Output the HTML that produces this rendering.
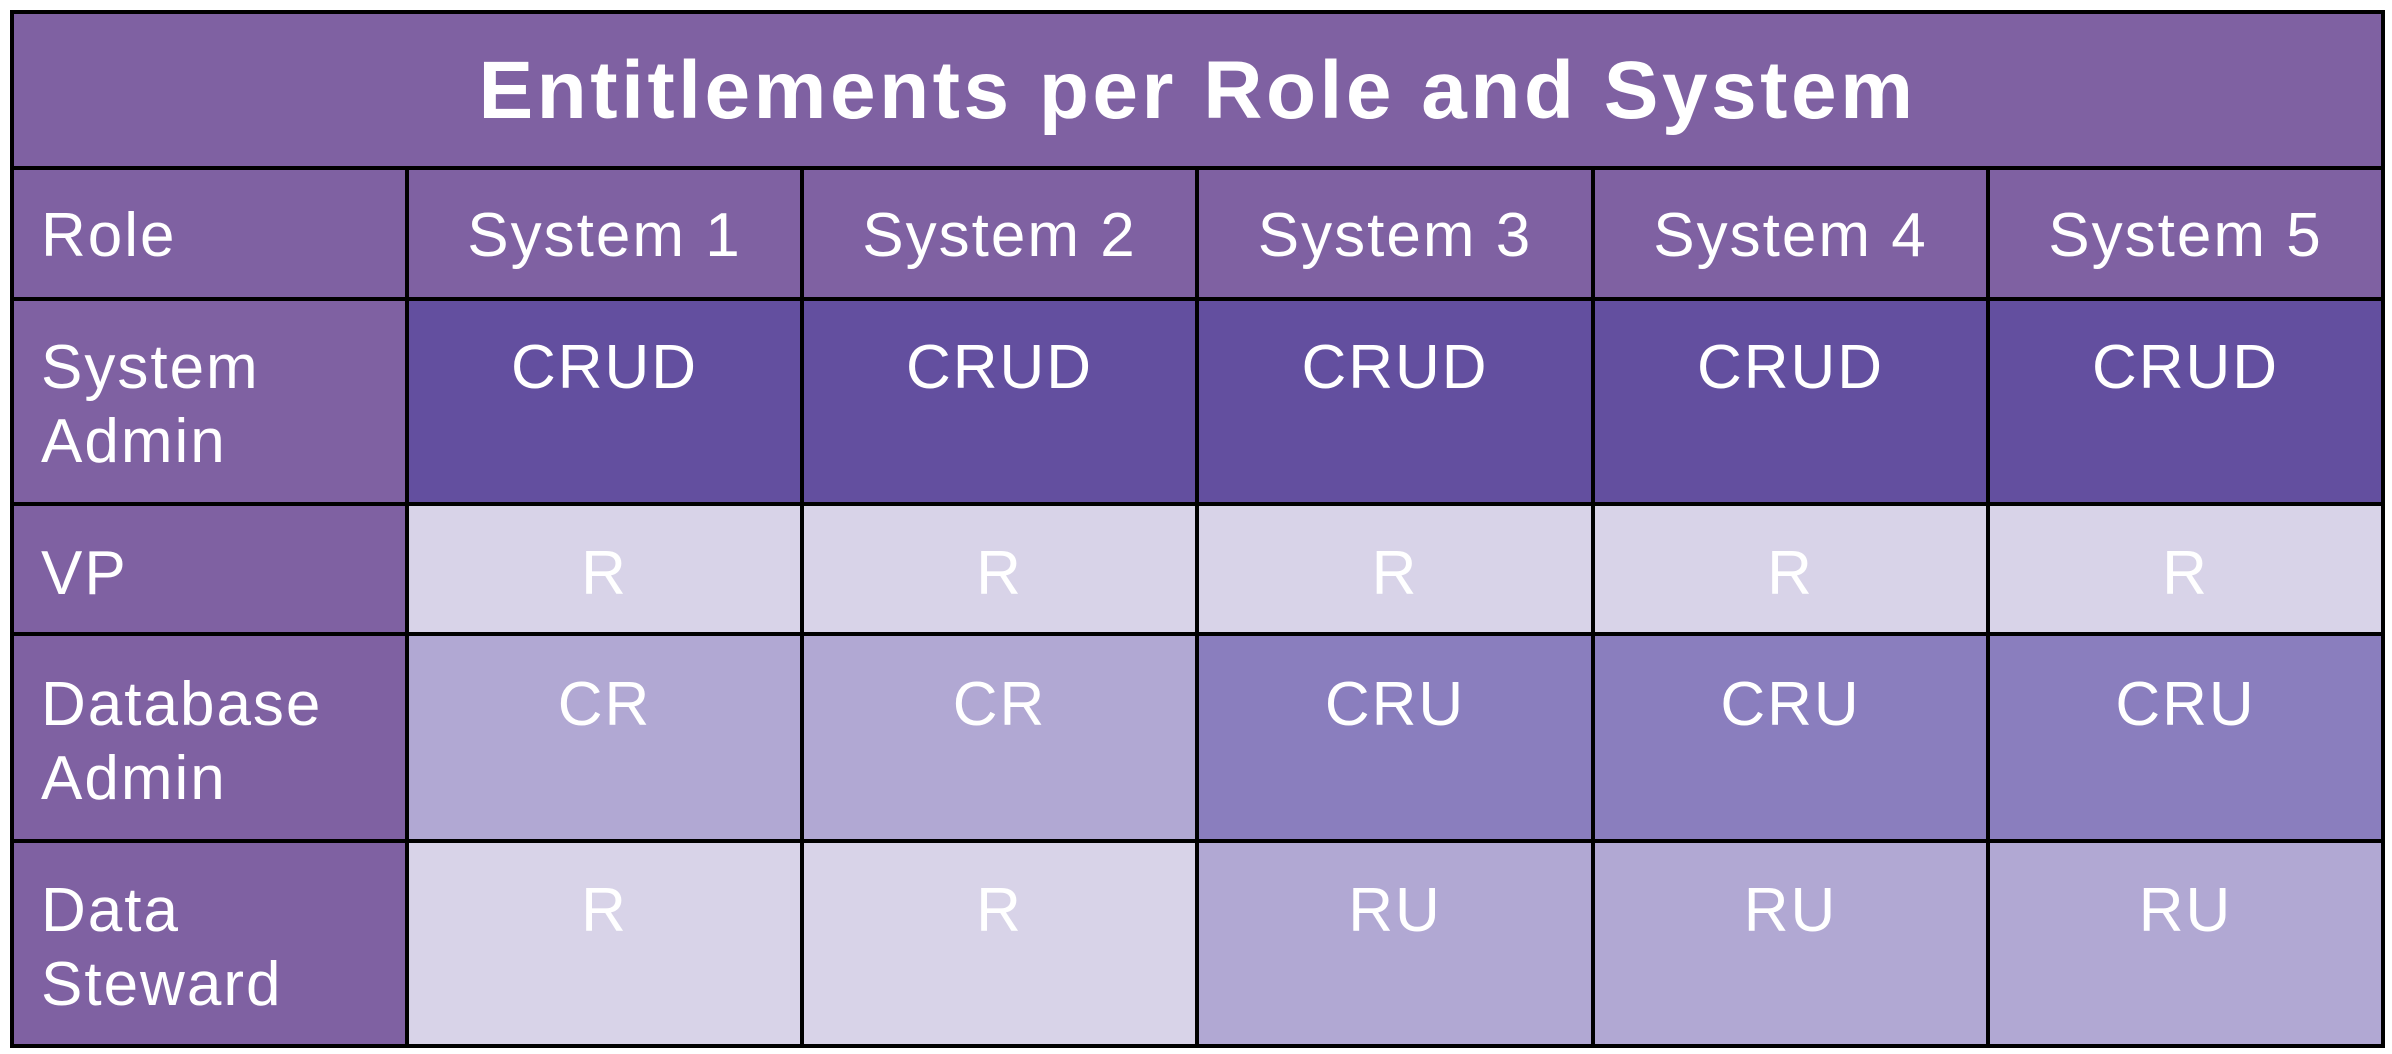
<!DOCTYPE html>
<html>
<head>
<meta charset="utf-8">
<style>
  html,body{margin:0;padding:0;background:#ffffff;}
  body{width:2392px;height:1054px;position:relative;overflow:hidden;font-family:"Liberation Sans",Arial,sans-serif;}
  .frame{position:absolute;left:10px;top:10px;width:2375px;height:1038px;background:#000;}
  .c{position:absolute;}
  .hdr{background:#7f61a2;}
  .sa{background:#634f9f;}
  .lt{background:#d8d3e8;}
  .md{background:#b1a8d3;}
  .dk{background:#8a7ebe;}
  .t{position:absolute;color:#fff;font-size:62px;line-height:74px;letter-spacing:2px;white-space:nowrap;}
  .ctr{text-align:center;}
  .title{position:absolute;left:14px;width:2367px;top:41px;color:#fff;font-weight:bold;font-size:82px;line-height:100px;letter-spacing:3.5px;text-align:center;white-space:nowrap;}
</style>
</head>
<body>
<div class="frame"></div>

<!-- title -->
<div class="c hdr" style="left:14px;top:14px;width:2367px;height:152px;"></div>
<div class="title">Entitlements per Role and System</div>

<!-- header row 170-297 -->
<div class="c hdr" style="left:14px;top:170px;width:391px;height:127px;"></div>
<div class="c hdr" style="left:409px;top:170px;width:391px;height:127px;"></div>
<div class="c hdr" style="left:804px;top:170px;width:391px;height:127px;"></div>
<div class="c hdr" style="left:1199px;top:170px;width:392px;height:127px;"></div>
<div class="c hdr" style="left:1595px;top:170px;width:391px;height:127px;"></div>
<div class="c hdr" style="left:1990px;top:170px;width:391px;height:127px;"></div>

<!-- row 1: 301-502 -->
<div class="c hdr" style="left:14px;top:301px;width:391px;height:201px;"></div>
<div class="c sa" style="left:409px;top:301px;width:391px;height:201px;"></div>
<div class="c sa" style="left:804px;top:301px;width:391px;height:201px;"></div>
<div class="c sa" style="left:1199px;top:301px;width:392px;height:201px;"></div>
<div class="c sa" style="left:1595px;top:301px;width:391px;height:201px;"></div>
<div class="c sa" style="left:1990px;top:301px;width:391px;height:201px;"></div>

<!-- row 2: 506-632 -->
<div class="c hdr" style="left:14px;top:506px;width:391px;height:126px;"></div>
<div class="c lt" style="left:409px;top:506px;width:391px;height:126px;"></div>
<div class="c lt" style="left:804px;top:506px;width:391px;height:126px;"></div>
<div class="c lt" style="left:1199px;top:506px;width:392px;height:126px;"></div>
<div class="c lt" style="left:1595px;top:506px;width:391px;height:126px;"></div>
<div class="c lt" style="left:1990px;top:506px;width:391px;height:126px;"></div>

<!-- row 3: 636-839 -->
<div class="c hdr" style="left:14px;top:636px;width:391px;height:203px;"></div>
<div class="c md" style="left:409px;top:636px;width:391px;height:203px;"></div>
<div class="c md" style="left:804px;top:636px;width:391px;height:203px;"></div>
<div class="c dk" style="left:1199px;top:636px;width:392px;height:203px;"></div>
<div class="c dk" style="left:1595px;top:636px;width:391px;height:203px;"></div>
<div class="c dk" style="left:1990px;top:636px;width:391px;height:203px;"></div>

<!-- row 4: 843-1044 -->
<div class="c hdr" style="left:14px;top:843px;width:391px;height:201px;"></div>
<div class="c lt" style="left:409px;top:843px;width:391px;height:201px;"></div>
<div class="c lt" style="left:804px;top:843px;width:391px;height:201px;"></div>
<div class="c md" style="left:1199px;top:843px;width:392px;height:201px;"></div>
<div class="c md" style="left:1595px;top:843px;width:391px;height:201px;"></div>
<div class="c md" style="left:1990px;top:843px;width:391px;height:201px;"></div>

<!-- header text -->
<div class="t" style="left:41px;top:199px;">Role</div>
<div class="t ctr" style="left:409px;width:391px;top:199px;">System 1</div>
<div class="t ctr" style="left:804px;width:391px;top:199px;">System 2</div>
<div class="t ctr" style="left:1199px;width:392px;top:199px;">System 3</div>
<div class="t ctr" style="left:1595px;width:391px;top:199px;">System 4</div>
<div class="t ctr" style="left:1990px;width:391px;top:199px;">System 5</div>

<!-- row 1 text -->
<div class="t" style="left:41px;top:331px;">System<br>Admin</div>
<div class="t ctr" style="left:409px;width:391px;top:331px;">CRUD</div>
<div class="t ctr" style="left:804px;width:391px;top:331px;">CRUD</div>
<div class="t ctr" style="left:1199px;width:392px;top:331px;">CRUD</div>
<div class="t ctr" style="left:1595px;width:391px;top:331px;">CRUD</div>
<div class="t ctr" style="left:1990px;width:391px;top:331px;">CRUD</div>

<!-- row 2 text -->
<div class="t" style="left:41px;top:537px;">VP</div>
<div class="t ctr" style="left:409px;width:391px;top:537px;">R</div>
<div class="t ctr" style="left:804px;width:391px;top:537px;">R</div>
<div class="t ctr" style="left:1199px;width:392px;top:537px;">R</div>
<div class="t ctr" style="left:1595px;width:391px;top:537px;">R</div>
<div class="t ctr" style="left:1990px;width:391px;top:537px;">R</div>

<!-- row 3 text -->
<div class="t" style="left:41px;top:668px;">Database<br>Admin</div>
<div class="t ctr" style="left:409px;width:391px;top:668px;">CR</div>
<div class="t ctr" style="left:804px;width:391px;top:668px;">CR</div>
<div class="t ctr" style="left:1199px;width:392px;top:668px;">CRU</div>
<div class="t ctr" style="left:1595px;width:391px;top:668px;">CRU</div>
<div class="t ctr" style="left:1990px;width:391px;top:668px;">CRU</div>

<!-- row 4 text -->
<div class="t" style="left:41px;top:874px;">Data<br>Steward</div>
<div class="t ctr" style="left:409px;width:391px;top:874px;">R</div>
<div class="t ctr" style="left:804px;width:391px;top:874px;">R</div>
<div class="t ctr" style="left:1199px;width:392px;top:874px;">RU</div>
<div class="t ctr" style="left:1595px;width:391px;top:874px;">RU</div>
<div class="t ctr" style="left:1990px;width:391px;top:874px;">RU</div>
</body>
</html>
